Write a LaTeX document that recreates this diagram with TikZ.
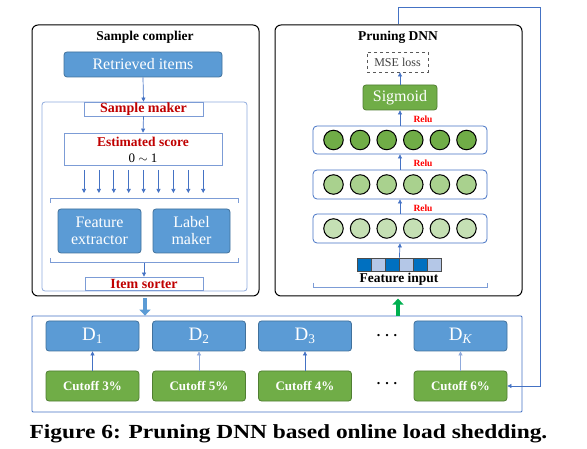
\documentclass[tikz,border=0pt]{standalone}
\usepackage{fontspec}
\setmainfont{Liberation Serif}
\newfontfamily\capfont[FakeStretch=1.17]{Liberation Serif}
\usetikzlibrary{arrows.meta}

\definecolor{boxblue}{HTML}{5B9BD5}
\definecolor{edgeblue}{HTML}{41719C}
\definecolor{lineblue}{HTML}{4472C4}
\definecolor{paleblue}{HTML}{8FAADC}
\definecolor{boxgreen}{HTML}{70AD47}
\definecolor{edgegreen}{HTML}{507E32}
\definecolor{midgreen}{HTML}{A9D18E}
\definecolor{lightgreen}{HTML}{C5E0B4}
\definecolor{arrowgreen}{HTML}{00B050}
\definecolor{darkred}{HTML}{C00000}
\definecolor{inblue}{HTML}{0070C0}
\definecolor{inpale}{HTML}{B4C7E7}

\begin{document}
\begin{tikzpicture}[x=1pt, y=-1pt,
    frame/.style={draw, rounded corners=6pt, line width=1pt, inner sep=0pt},
    blk/.style={draw=edgeblue, fill=boxblue, rounded corners=3pt, line width=0.8pt, text=white, align=center, inner sep=0pt, font=\fontsize{16}{17}\selectfont},
    grn/.style={draw=edgegreen, fill=boxgreen, rounded corners=3pt, line width=0.8pt, text=white, align=center, inner sep=0pt},
    tag/.style={draw=lineblue!70, fill=white, line width=0.8pt, inner sep=0pt, text=darkred, font=\fontsize{14}{15}\selectfont\bfseries},
    layer/.style={draw=lineblue, fill=white, rounded corners=4pt, line width=0.8pt, minimum width=174, minimum height=28, inner sep=0pt},
    neuron/.style={circle, draw=black, line width=1pt, minimum size=19.5, inner sep=0pt},
    arr/.style={draw=lineblue, line width=0.7pt, -{Triangle[length=4pt, width=4pt]}},
    brk/.style={draw=lineblue!70, line width=1pt},
    relu/.style={text=red, font=\fontsize{9.5}{10}\selectfont\bfseries, inner sep=0pt},
    ttl/.style={font=\fontsize{13.5}{14}\selectfont\bfseries}]
    \useasboundingbox (0,0) rectangle (587,449);

    % Sample complier box
    \node[frame, minimum width=227, minimum height=271] (compiler) at (145.5,160.5) {};
    \node[ttl] (ctitle) at (145,37) {Sample complier};
    \node[blk, minimum width=158, minimum height=25] (retrieved) at (143,64.5) {Retrieved items};

    % Sample maker
    \node[draw=paleblue, rounded corners=3pt, line width=0.8pt, minimum width=205, minimum height=189, inner sep=0pt] (maker) at (144.5,196.5) {};
    \node[tag, minimum width=119, minimum height=14] (makerlbl) at (143.5,109) {Sample maker};
    \draw[arr] (retrieved.south) -- (makerlbl.north);
    \node[draw=lineblue!70, fill=white, line width=0.8pt, minimum width=158, minimum height=32, inner sep=0pt] (score) at (143,149) {};
    \node[inner sep=0pt, text=darkred, font=\fontsize{13.5}{14}\selectfont\bfseries] (scoretxt) at (143,142) {Estimated score};
    \node[inner sep=0pt, font=\fontsize{13}{14}\selectfont] (range) at (143,158) {0 $\sim$ 1};
    \draw[arr] (makerlbl.south) -- (score.north);
    \foreach \i in {0,...,8}
        \draw[arr] (84+14.9*\i,170) -- ++(0,23);
    \draw[brk] (50,203) -- (50,199) -- (238,199) -- (238,203);
    \node[blk, minimum width=83, minimum height=44] (feature) at (99.5,231) {Feature\\extractor};
    \node[blk, minimum width=77, minimum height=44] (label) at (191.5,231) {Label\\maker};
    \draw[brk] (50,258) -- (50,263) -- (238,263) -- (238,258);
    \coordinate (brbot) at (144,263);
    \node[tag, minimum width=118, minimum height=13] (sorter) at (144,283.5) {Item sorter};
    \draw[arr] (brbot) -- (sorter.north);

    % Pruning DNN box
    \node[frame, minimum width=247, minimum height=271] (dnn) at (398.5,160.5) {};
    \node[ttl] (dtitle) at (398,37) {Pruning DNN};
    \node[draw=black!65, dashed, line width=0.8pt, minimum width=61, minimum height=20, inner sep=0pt, text=black!75, font=\fontsize{12}{13}\selectfont] (mse) at (397.5,62) {MSE loss};
    \node[grn, minimum width=74, minimum height=25, font=\fontsize{16}{17}\selectfont] (sigmoid) at (400,97.5) {Sigmoid};
    \node[layer] (l3) at (400,140) {};
    \node[layer, minimum height=29] (l2) at (400,184.5) {};
    \node[layer, minimum height=29] (l1) at (400,228.5) {};
    \foreach \l/\c in {l1/lightgreen, l2/midgreen, l3/boxgreen}
        \foreach \j in {0,...,5}
            \node[neuron, fill=\c] (\l n\j) at ([xshift=-66.5+26.6*\j]\l.center) {};
    % feature input
    \foreach \j/\c in {1/inblue, 2/inpale, 3/inblue, 4/inpale, 5/inblue, 6/inpale}
        \node[draw=black!70, fill=\c, line width=0.8pt, minimum width=14, minimum height=13, inner sep=0pt] (sq\j) at (350+14*\j,264.5) {};
    \node[ttl] (finput) at (399,279) {Feature input};
    \draw[brk] (313,283) -- (313,288) -- (487,288) -- (487,283);
    \draw[arr] (sq3.north east) -- (l1.south);
    \draw[arr] (l1.north) -- (l2.south);
    \draw[arr] (l2.north) -- (l3.south);
    \draw[arr] (l3.north) -- (sigmoid.south);
    \draw[arr] (sigmoid.south |- sigmoid.north) -- (mse.south -| sigmoid.north);
    \node[relu] (relu1) at (423,208) {Relu};
    \node[relu] (relu2) at (423,163.5) {Relu};
    \node[relu] (relu3) at (423,119) {Relu};

    % Datasets
    \node[draw=lineblue, line width=0.8pt, rounded corners=1pt, minimum width=490, minimum height=96, inner sep=0pt] (data) at (277,364) {};
    \draw[boxblue, line width=4.5pt, -{Triangle[length=6pt, width=11pt]}] (compiler.south -| 145,0) ++(0,2) -- (data.north -| 145,0);
    \draw[arrowgreen, line width=4.5pt, -{Triangle[length=6pt, width=11pt]}] (data.north -| 398,0) -- ++(0,-17);
    \foreach \n/\x/\d/\p/\c in {1/92.5/1/3/lineblue, 2/199/2/5/paleblue, 3/305/3/4/lineblue, K/460.5/{\itshape K}/6/paleblue} {
        \node[blk, minimum width=93, minimum height=30, font=\fontsize{19}{20}\selectfont] (d\n) at (\x,336) {D\textsubscript{\d}};
        \node[grn, minimum width=93, minimum height=30, font=\fontsize{13}{14}\selectfont\bfseries] (cut\n) at (\x,386) {Cutoff \p\%};
        \draw[arr, draw=\c] (cut\n.north) -- (d\n.south);
    }
    \node[font=\fontsize{14}{15}\selectfont\bfseries] (dots1) at (387,336) {.\hspace{5pt}.\hspace{5pt}.};
    \node[font=\fontsize{14}{15}\selectfont\bfseries] (dots2) at (387,384) {.\hspace{5pt}.\hspace{5pt}.};

    % feedback line
    \coordinate (fbtop) at (540,7);
    \draw[arr] (dnn.north) |- (fbtop) |- (cutK.east);

    % caption
    \node[anchor=base, inner sep=0pt, font=\capfont\fontsize{20}{22}\selectfont\bfseries] (caption) at (288.5,438) {Figure 6: Pruning DNN based online load shedding.};
\end{tikzpicture}
\end{document}
